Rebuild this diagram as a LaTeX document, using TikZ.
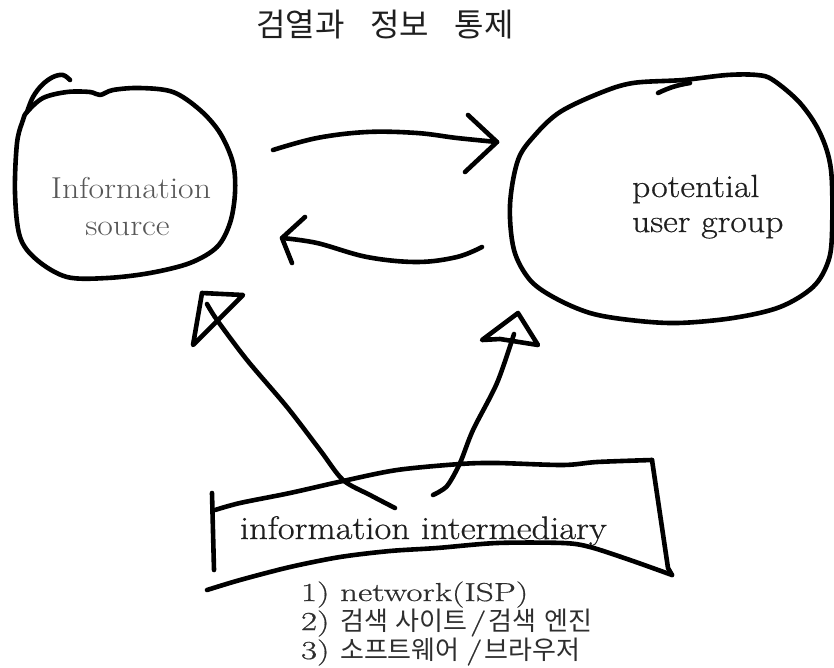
\documentclass[tikz,border=0pt]{standalone}
\usepackage{fontspec}
\setmainfont{Latin Modern Roman}[FakeStretch=1.12]
\newfontfamily\lmink{Latin Modern Roman}[FakeStretch=1.12, FakeBold=0.6]
\newfontfamily\lmlist{Latin Modern Roman}[FakeStretch=1.35, FakeBold=0.6]
\newfontfamily\cjk{Noto Sans CJK KR}
\newcommand\krtxt[1]{{\cjk\fontsize{26}{28}\selectfont #1}}
\begin{document}
\begin{tikzpicture}[x=1pt,y=-1pt]
\tikzset{
  ink/.style={line width=4.6pt, line cap=round, line join=round, draw=black},
  lbl/.style={inner sep=0pt, outer sep=0pt, text=black!88},
}
\fill[white] (0,0) rectangle (834,667);
\useasboundingbox (0,0) rectangle (834,667);

% ---------- texts ----------
\node[lbl, anchor=base, font=\cjk\fontsize{32}{32}\selectfont] (title) at (385,36)
  {검열과\hspace{0.8em}정보\hspace{0.8em}통제};
\node[lbl, anchor=base, text=black!66, font=\fontsize{30.2}{37}\selectfont] (src1) at (131,198) {Information};
\node[lbl, anchor=base, text=black!66, font=\fontsize{30.2}{37}\selectfont] (src2) at (127.5,235) {source};
\node[lbl, anchor=base west, font=\lmink\fontsize{32}{38}\selectfont] (usr1) at (632,197) {potential};
\node[lbl, anchor=base west, font=\lmink\fontsize{32}{38}\selectfont] (usr2) at (632,232) {user group};
\node[lbl, anchor=base west, font=\lmink\fontsize{32.6}{40}\selectfont] (mid) at (240,539) {information intermediary};
\node[lbl, anchor=base west, text=black!82, font=\lmlist\fontsize{26}{28}\selectfont] (li1) at (301,601) {1) network(ISP)};
\node[lbl, anchor=base west, text=black!82, font=\lmlist\fontsize{26}{28}\selectfont] (li2) at (301,630)
  {2) \krtxt{검색\hspace{0.3em}사이트}\hspace{0.1em}/\hspace{0.1em}\krtxt{검색\hspace{0.3em}엔진}};
\node[lbl, anchor=base west, text=black!82, font=\lmlist\fontsize{26}{28}\selectfont] (li3) at (301,659)
  {3) \krtxt{소프트웨어}\hspace{0.25em}/\hspace{0.1em}\krtxt{브라우저}};

% ---------- information source (left blob) ----------
\coordinate (srcTail) at (27,112);
\draw[ink] plot[smooth cycle, tension=0.55] coordinates {
  (srcTail) (43,98) (67,92) (90,92) (100,95) (113,90) (140,88) (173,92) (200,110)
  (220,133) (233,163) (235,193) (230,223) (217,247) (190,263) (150,273) (107,278)
  (67,277) (37,260) (20,237) (15,193) (17,143) (23,120)};
\draw[ink] plot[smooth, tension=0.6] coordinates {(srcTail) (33,97) (42,85) (53,77) (63,75) (70,80)};

% ---------- potential user group (right blob) ----------
\draw[ink] plot[smooth cycle, tension=0.55] coordinates {
  (600,93) (633,83) (683,80) (727,75) (757,75) (773,80) (800,103) (820,133)
  (831,170) (832,233) (828,262) (813,287) (780,307) (733,318) (677,323) (630,320)
  (590,313) (555,298) (530,280) (514,250) (510,205) (518,160) (535,135) (560,112)};
\coordinate (usrTailA) at (658,93);
\coordinate (usrTailB) at (690,83);
\draw[ink] (usrTailA) to[bend left=8] (usrTailB);

% ---------- top arrow: source -> users ----------
\coordinate (a1s) at (273,150);
\coordinate (a1e) at (497,142);
\draw[ink] plot[smooth, tension=0.6] coordinates {(a1s) (317,138) (367,132) (417,133) (457,138) (a1e)};
\coordinate (a1h1) at (468,115);
\coordinate (a1h2) at (465,172);
\draw[ink] (a1h1) -- (a1e) -- (a1h2);

% ---------- bottom arrow: users -> source ----------
\coordinate (a2s) at (482,247);
\coordinate (a2e) at (282,238);
\draw[ink] plot[smooth, tension=0.6] coordinates {(a2s) (457,257) (417,262) (367,257) (317,243) (a2e)};
\coordinate (a2h1) at (305,217);
\coordinate (a2h2) at (292,263);
\draw[ink] (a2h1) -- (a2e) -- (a2h2);

% ---------- intermediary box ----------
\coordinate (bxTL) at (212,493);
\coordinate (bxBL) at (214,570);
\draw[ink] (bxTL) -- (bxBL);
\coordinate (bxTR) at (652,460);
\coordinate (bxBR) at (672,575);
\draw[ink] plot[smooth, tension=0.5] coordinates {
  (215,510) (240,503) (290,493) (343,481) (397,470) (460,464) (497,463) (563,465) (597,462) (bxTR)};
\draw[ink] (bxTR) -- (668,568) -- (bxBR);
\draw[ink] plot[smooth, tension=0.5] coordinates {
  (bxBR) (630,560) (590,547) (563,543) (497,543) (437,548) (390,551) (340,557) (290,567) (240,580) (207,590)};

% ---------- up-left arrow: intermediary -> source ----------
\coordinate (a3s) at (395,508);
\coordinate (a3e) at (207,304);
\draw[ink] plot[smooth, tension=0.5] coordinates {
  (a3s) (370,495) (343,480) (320,450) (287,407) (247,360) (217,320) (a3e)};
\coordinate (a3t1) at (202,293);
\coordinate (a3t2) at (243,295);
\coordinate (a3t3) at (193,345);
\draw[ink] (a3t1) -- (a3t2) -- (a3t3) -- cycle;

% ---------- up-right arrow: intermediary -> users ----------
\coordinate (a4s) at (433,495);
\coordinate (a4e) at (514,334);
\draw[ink] plot[smooth, tension=0.5] coordinates {
  (a4s) (447,486) (460,463) (473,430) (497,383) (a4e)};
\coordinate (a4t1) at (518,313);
\coordinate (a4t2) at (538,345);
\coordinate (a4t3) at (482,340);
\draw[ink] (a4t1) -- (a4t2) -- (500,339) -- (a4t3) -- cycle;
\end{tikzpicture}
\end{document}
